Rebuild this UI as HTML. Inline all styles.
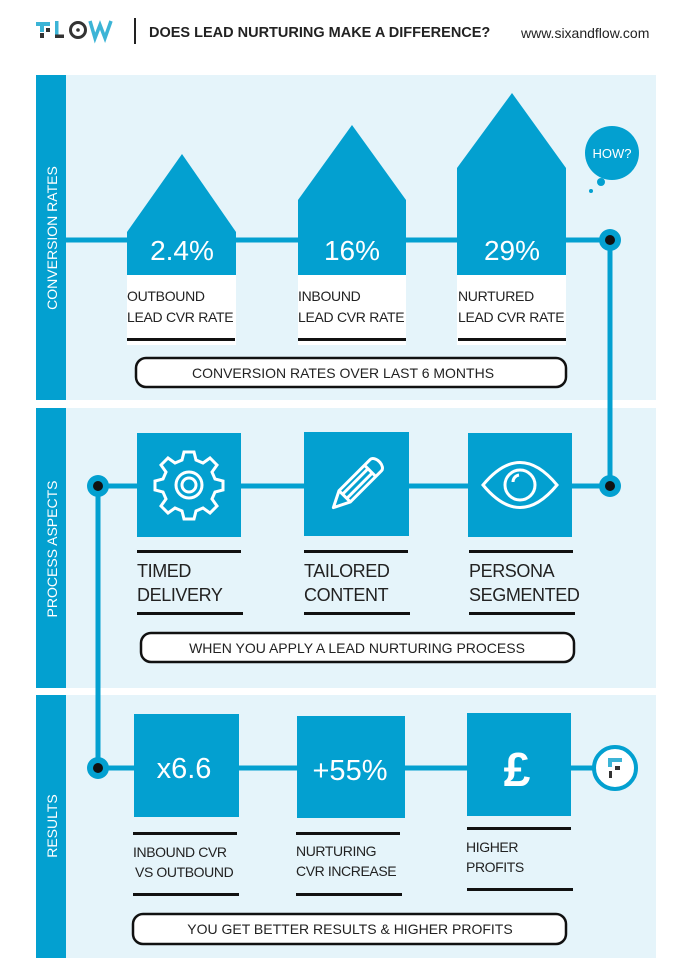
<!DOCTYPE html>
<html><head><meta charset="utf-8"><style>
body{margin:0;width:690px;height:975px;background:#fff;overflow:hidden;font-family:"Liberation Sans",sans-serif}
svg{position:absolute;left:0;top:0}
</style></head><body>
<svg width="690" height="975" viewBox="0 0 690 975" font-family="Liberation Sans, sans-serif">
<!-- header -->
<rect x="36" y="22" width="14" height="4" fill="#3cb4d6"/><rect x="40" y="26" width="4" height="6" fill="#3cb4d6"/><rect x="46" y="28" width="4" height="4" fill="#333"/><rect x="40" y="33" width="4" height="5" fill="#333"/>
<rect x="55" y="21" width="3.5" height="17" fill="#3cb4d6"/><rect x="55" y="34.5" width="9" height="3.5" fill="#333"/>
<circle cx="78" cy="30" r="7.5" fill="none" stroke="#333" stroke-width="3"/><circle cx="78" cy="30" r="1.8" fill="#333"/>
<path d="M90 21 L95 38 L100 25 L105 38 L111 21" fill="none" stroke="#3cb4d6" stroke-width="3.5"/>
<rect x="134" y="18" width="2" height="26" fill="#222"/>
<text x="149" y="37" font-size="14.5" font-weight="bold" fill="#222">DOES LEAD NURTURING MAKE A DIFFERENCE?</text>
<text x="521" y="38" font-size="14" fill="#222">www.sixandflow.com</text>
<!-- panels -->
<rect x="36" y="75" width="620" height="325" fill="#e5f4fa"/>
<rect x="36" y="408" width="620" height="280" fill="#e5f4fa"/>
<rect x="36" y="695" width="620" height="263" fill="#e5f4fa"/>
<rect x="36" y="75" width="30" height="325" fill="#03a0d0"/>
<rect x="36" y="408" width="30" height="280" fill="#03a0d0"/>
<rect x="36" y="695" width="30" height="263" fill="#03a0d0"/>
<text transform="translate(57,238) rotate(-90)" text-anchor="middle" font-size="14" fill="#fff">CONVERSION RATES</text>
<text transform="translate(57,549) rotate(-90)" text-anchor="middle" font-size="14" fill="#fff">PROCESS ASPECTS</text>
<text transform="translate(57,826) rotate(-90)" text-anchor="middle" font-size="14" fill="#fff">RESULTS</text>
<g stroke="#03a0d0" stroke-width="5" fill="none">
<path d="M66 240 H610 V486 H98 V768 H600"/>
</g>
<g fill="#03a0d0">
<path d="M127 275 V232 L182 154 L236 232 V275Z"/>
<path d="M298 275 V200 L352 125 L406 200 V275Z"/>
<path d="M457 275 V168 L512 93 L566 168 V275Z"/>
</g>
<g fill="#fff"><rect x="127" y="275" width="109" height="70"/><rect x="298" y="275" width="108" height="70"/><rect x="457" y="275" width="109" height="70"/></g>
<g fill="#fff" font-size="28" text-anchor="middle"><text x="182" y="260">2.4%</text><text x="352" y="260">16%</text><text x="512" y="260">29%</text></g>
<g font-size="14" fill="#222" letter-spacing="-0.3"><text x="127" y="301">OUTBOUND</text><text x="127" y="322">LEAD CVR RATE</text>
<text x="298" y="301">INBOUND</text><text x="298" y="322">LEAD CVR RATE</text>
<text x="458" y="301">NURTURED</text><text x="458" y="322">LEAD CVR RATE</text></g>
<g fill="#111"><rect x="127" y="338" width="108" height="3"/><rect x="298" y="338" width="108" height="3"/><rect x="458" y="338" width="108" height="3"/></g>
<circle cx="612" cy="153" r="27" fill="#03a0d0"/><circle cx="601" cy="182" r="4" fill="#03a0d0"/><circle cx="591" cy="191" r="2" fill="#03a0d0"/>
<text x="612" y="158" text-anchor="middle" font-size="13" fill="#fff">HOW?</text>
<g fill="#03a0d0"><circle cx="610" cy="240" r="11"/><circle cx="610" cy="486" r="11"/><circle cx="98" cy="486" r="11"/><circle cx="98" cy="768" r="11"/></g>
<g fill="#111"><circle cx="610" cy="240" r="5"/><circle cx="610" cy="486" r="5"/><circle cx="98" cy="486" r="5"/><circle cx="98" cy="768" r="5"/></g>
<rect x="136" y="358" width="430" height="29" rx="10" fill="#fff" stroke="#111" stroke-width="2.5"/>
<text x="343" y="378" text-anchor="middle" font-size="14" fill="#222">CONVERSION RATES OVER LAST  6 MONTHS</text>
<g fill="#03a0d0"><rect x="137" y="433" width="104" height="104"/><rect x="304" y="432" width="105" height="104"/><rect x="468" y="433" width="104" height="104"/></g>
<g transform="translate(189,485)" fill="none" stroke="#fff" stroke-width="3">
<path d="M-5 -33 H5 L7 -25 L14 -22 L21 -27 L28 -20 L23 -13 L26 -6 L34 -4 V5 L26 7 L23 14 L28 21 L21 28 L14 23 L7 26 L5 34 H-5 L-7 26 L-14 23 L-21 28 L-28 21 L-23 14 L-26 7 L-34 5 V-4 L-26 -6 L-23 -13 L-28 -20 L-21 -27 L-14 -22 L-7 -25 Z"/>
<circle r="13"/><circle r="7"/></g>
<g transform="translate(356,485) rotate(45)" fill="none" stroke="#fff" stroke-width="3" stroke-linejoin="round">
<path d="M-8 -28 a8 5 0 0 1 16 0 V16 L0 32 L-8 16 Z"/><path d="M-8 -20 H8"/><path d="M-3 -20 V16 M3 -20 V16"/><path d="M-8 16 H8"/></g>
<g transform="translate(520,485)" fill="none" stroke="#fff" stroke-width="3">
<path d="M-37 0 Q0 -45 37 0 Q0 45 -37 0Z"/><circle r="15"/><path d="M-7 -3 a7 7 0 0 1 6 -7"/></g>
<g fill="#111"><rect x="137" y="550" width="104" height="3"/><rect x="304" y="550" width="104" height="3"/><rect x="469" y="550" width="104" height="3"/>
<rect x="137" y="612" width="106" height="3"/><rect x="304" y="612" width="106" height="3"/><rect x="469" y="612" width="106" height="3"/></g>
<g font-size="18" fill="#222" letter-spacing="-0.4"><text x="137" y="577">TIMED</text><text x="137" y="601">DELIVERY</text>
<text x="304" y="577">TAILORED</text><text x="304" y="601">CONTENT</text>
<text x="469" y="577">PERSONA</text><text x="469" y="601">SEGMENTED</text></g>
<rect x="141" y="633" width="433" height="29" rx="10" fill="#fff" stroke="#111" stroke-width="2.5"/>
<text x="357" y="653" text-anchor="middle" font-size="14" fill="#222">WHEN YOU APPLY A LEAD NURTURING PROCESS</text>
<g fill="#03a0d0"><rect x="134" y="714" width="105" height="103"/><rect x="297" y="716" width="108" height="102"/><rect x="467" y="713" width="104" height="103"/></g>
<g fill="#fff" text-anchor="middle"><text x="184" y="778" font-size="29">x6.6</text><text x="350" y="780" font-size="29">+55%</text><text x="517" y="786" font-size="48" font-weight="bold">£</text></g>
<circle cx="615" cy="768" r="21" fill="#fff" stroke="#03a0d0" stroke-width="4"/>
<rect x="608" y="758" width="14" height="4" fill="#3cb4d6"/><rect x="608" y="762" width="4" height="5" fill="#3cb4d6"/><rect x="615" y="766" width="5" height="4" fill="#333"/><rect x="609" y="771" width="3" height="7" fill="#333"/>
<g fill="#111"><rect x="133" y="832" width="104" height="3"/><rect x="296" y="832" width="104" height="3"/><rect x="467" y="827" width="104" height="3"/>
<rect x="133" y="893" width="106" height="3"/><rect x="296" y="893" width="106" height="3"/><rect x="467" y="888" width="106" height="3"/></g>
<g font-size="14" fill="#222" letter-spacing="-0.4"><text x="133" y="857">INBOUND CVR</text><text x="135" y="877">VS OUTBOUND</text>
<text x="296" y="856">NURTURING</text><text x="296" y="876">CVR INCREASE</text>
<text x="466" y="852">HIGHER</text><text x="466" y="872">PROFITS</text></g>
<rect x="133" y="914" width="433" height="30" rx="10" fill="#fff" stroke="#111" stroke-width="2.5"/>
<text x="350" y="934" text-anchor="middle" font-size="14" fill="#222">YOU GET BETTER RESULTS &amp; HIGHER PROFITS</text>
</svg>
</body></html>
